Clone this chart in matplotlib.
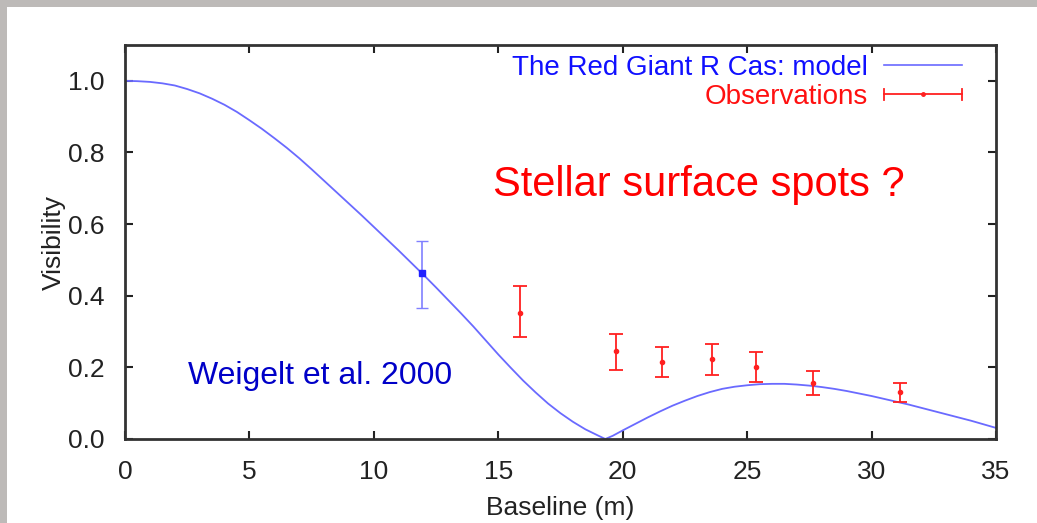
import matplotlib
matplotlib.use("Agg")
import matplotlib.pyplot as plt
from matplotlib.patches import Rectangle
from matplotlib.legend_handler import HandlerBase
from matplotlib.lines import Line2D

plt.rcParams['font.family'] = ['Liberation Sans', 'DejaVu Sans']

# Model curve
model_x = [0.0, 0.5, 1.0, 1.5, 2.0, 2.5, 3.0, 3.5, 4.0, 4.5, 5.0, 5.5, 6.0, 6.5, 7.0,
           7.5, 8.0, 8.5, 9.0, 9.5, 10.0, 10.5, 11.0, 11.5, 12.0, 12.5, 13.0, 13.5,
           14.0, 14.5, 15.0, 15.5, 16.0, 16.5, 17.0, 17.5, 18.0, 18.5, 19.0, 19.3,
           19.6, 20.0, 20.5, 21.0, 21.5, 22.0, 22.5, 23.0, 23.5, 24.0, 24.5, 25.0,
           25.5, 26.0, 26.5, 27.0, 27.5, 28.0, 28.5, 29.0, 29.5, 30.0, 30.5, 31.0,
           31.5, 32.0, 32.5, 33.0, 33.5, 34.0, 34.5, 35.0]
model_v = [1.000, 0.999, 0.997, 0.993, 0.987, 0.977, 0.965, 0.950, 0.933, 0.913, 0.890,
           0.866, 0.840, 0.813, 0.784, 0.753, 0.721, 0.689, 0.657, 0.625, 0.592, 0.559,
           0.526, 0.492, 0.458, 0.423, 0.387, 0.351, 0.314, 0.275, 0.236, 0.199, 0.163,
           0.130, 0.099, 0.072, 0.048, 0.027, 0.010, 0.000, 0.009, 0.024, 0.042, 0.060,
           0.077, 0.093, 0.107, 0.120, 0.131, 0.140, 0.146, 0.150, 0.153, 0.154, 0.154,
           0.152, 0.149, 0.145, 0.140, 0.134, 0.127, 0.120, 0.112, 0.104, 0.096, 0.087,
           0.078, 0.069, 0.060, 0.051, 0.041, 0.031]

# Weigelt et al. 2000 point
w_x = [11.92]
w_v = [0.463]
w_lo = [0.367]
w_hi = [0.552]

# Observations
obs_x = [15.87, 19.75, 21.56, 23.57, 25.37, 27.65, 31.14]
obs_v = [0.353, 0.247, 0.216, 0.223, 0.202, 0.157, 0.131]
obs_lo = [0.286, 0.193, 0.173, 0.179, 0.160, 0.123, 0.103]
obs_hi = [0.426, 0.294, 0.258, 0.266, 0.244, 0.191, 0.157]

x_ticks = [0, 5, 10, 15, 20, 25, 30, 35]
y_ticks = [0.0, 0.2, 0.4, 0.6, 0.8, 1.0]

W, H = 1037, 523
fig = plt.figure(figsize=(W / 100, H / 100), dpi=100)
fig.patch.set_facecolor('white')
# gray frame strips (left and top)
fig.patches.append(Rectangle((0, 0), 7 / W, 1, transform=fig.transFigure,
                             facecolor='#bdbab8', edgecolor='none', zorder=0))
fig.patches.append(Rectangle((0, 1 - 7 / H), 1, 7 / H, transform=fig.transFigure,
                             facecolor='#bdbab8', edgecolor='none', zorder=0))

ax = fig.add_axes([125 / W, (H - 439) / H, (996 - 125) / W, (439 - 45) / H])
ax.set_xlim(0, 35)
ax.set_ylim(0, 1.1)

model_color = '#6a6aff'
ax.plot(model_x, model_v, color=model_color, lw=1.3, zorder=2)

ax.errorbar(w_x, w_v,
            yerr=[[v - l for v, l in zip(w_v, w_lo)], [h - v for v, h in zip(w_v, w_hi)]],
            fmt='s', color='#2020ff', ms=5, ecolor='#8080ff', elinewidth=1.2,
            capsize=4, capthick=1.0, zorder=3)
ax.errorbar(obs_x, obs_v,
            yerr=[[v - l for v, l in zip(obs_v, obs_lo)], [h - v for v, h in zip(obs_v, obs_hi)]],
            fmt='o', color='#ff2020', ms=3, ecolor='#ff2020', elinewidth=1.3,
            capsize=5, capthick=1.3, zorder=3)

ax.set_xticks(x_ticks)
ax.set_xticklabels([str(t) for t in x_ticks])
ax.set_yticks(y_ticks)
ax.set_yticklabels(['%.1f' % t for t in y_ticks])
ax.tick_params(direction='in', length=6, width=1.5, top=True, right=True,
               labelsize=19, colors='#222222')
ax.tick_params(axis='x', pad=15)
ax.tick_params(axis='y', pad=15)
for s in ax.spines.values():
    s.set_linewidth(2)
    s.set_color('#333333')

ax.set_xlabel('Baseline (m)', fontsize=19, color='#222222', labelpad=9)
ax.set_ylabel('Visibility', fontsize=19, color='#222222', labelpad=1)


class HandlerObs(HandlerBase):
    def create_artists(self, legend, orig_handle, xdescent, ydescent, width, height,
                       fontsize, trans):
        y = height / 2 - ydescent
        ln = Line2D([-xdescent, width - xdescent], [y, y], color='#ff2020', lw=1.3,
                    transform=trans)
        c1 = Line2D([-xdescent, -xdescent], [y - 4, y + 4], color='#ff2020', lw=1.3,
                    transform=trans)
        c2 = Line2D([width - xdescent, width - xdescent], [y - 4, y + 4], color='#ff2020',
                    lw=1.3, transform=trans)
        m = Line2D([(width) / 2 - xdescent], [y], marker='o', ms=2.5, color='#ff2020',
                   transform=trans)
        return [ln, c1, c2, m]


h_model = Line2D([], [], color=model_color, lw=1.2)
h_obs = object()
leg = ax.legend([h_model, h_obs], ['The Red Giant R Cas: model', 'Observations'],
                handler_map={object: HandlerObs()}, loc='upper right',
                bbox_to_anchor=(0.9724, 1.0),
                frameon=False, markerfirst=False, fontsize=20,
                handlelength=2.8, handletextpad=0.6, labelspacing=0.12,
                borderaxespad=0.15, borderpad=0.2)
leg.get_texts()[0].set_color('#1010ff')
leg.get_texts()[1].set_color('#ff1010')

fig.text(699 / W, 1 - 185 / H, 'Stellar surface spots ?', color='red', fontsize=30,
         ha='center', va='center')
fig.text(320 / W, 1 - 376 / H, 'Weigelt et al. 2000', color='#0000c8', fontsize=23,
         ha='center', va='center')

fig.savefig('out.png', dpi=100)
